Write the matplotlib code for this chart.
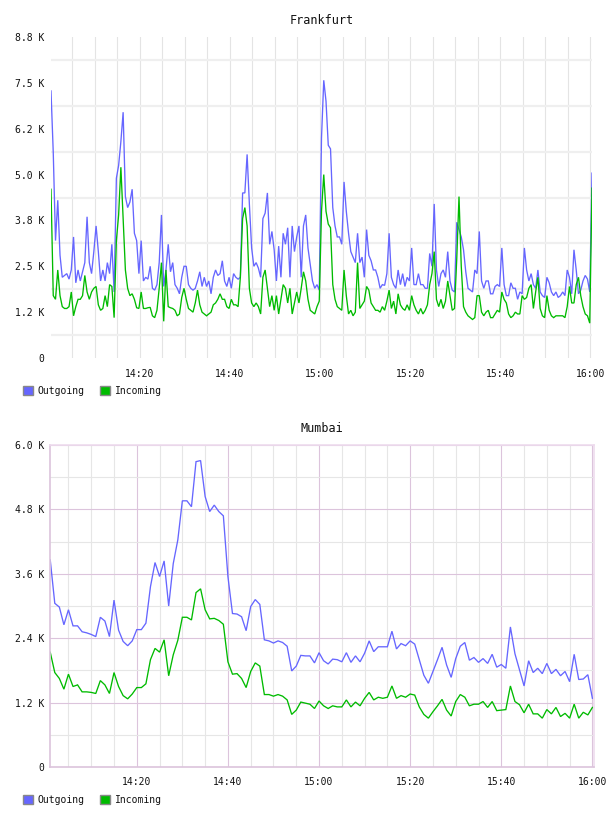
import numpy as np
import pandas as pd
import matplotlib
matplotlib.use("Agg")
from matplotlib import pyplot as plt
from matplotlib import dates as mdates
from matplotlib import ticker
from matplotlib.patches import Patch

###############################################################################
# DATA  (traffic values in K)
###############################################################################
fra_title = "Frankfurt"
fra_start = "2013-05-14 14:00:20"   # one sample every 30 s
fra_out = [
	7.28, 5.6, 3.2, 4.3, 2.8, 2.2, 2.25, 2.3, 2.15, 2.4,
	3.3, 2.05, 2.4, 2.1, 2.35, 2.6, 3.85, 2.6, 2.3, 2.9,
	3.6, 2.9, 2.1, 2.4, 2.1, 2.6, 2.3, 3.1, 1.8, 4.9,
	5.25, 5.9, 6.7, 4.4, 4.1, 4.25, 4.6, 3.4, 3.2, 2.3,
	3.2, 2.1, 2.2, 2.15, 2.5, 1.9, 1.85, 2.0, 2.6, 3.9,
	1.95, 2.4, 3.1, 2.35, 2.6, 2.0, 1.9, 1.75, 2.2, 2.5,
	2.5, 2.0, 1.9, 1.85, 1.9, 2.1, 2.35, 1.95, 2.2, 1.95,
	2.1, 1.75, 2.2, 2.4, 2.25, 2.3, 2.65, 2.1, 1.95, 2.2,
	1.9, 2.3, 2.2, 2.15, 2.2, 4.5, 4.5, 5.55, 4.2, 3.0,
	2.5, 2.6, 2.45, 2.2, 3.8, 3.95, 4.5, 3.1, 3.45, 2.95,
	2.1, 3.05, 2.2, 3.4, 3.1, 3.55, 2.2, 3.6, 2.9, 3.3,
	3.6, 2.2, 3.6, 3.9, 3.0, 2.55, 2.1, 1.9, 2.0, 1.85,
	6.0, 7.57, 7.0, 5.8, 5.7, 4.1, 3.6, 3.3, 3.3, 3.1,
	4.8, 4.0, 3.4, 2.9, 2.75, 2.6, 3.4, 2.6, 2.75, 2.2,
	3.5, 2.8, 2.65, 2.4, 2.4, 2.2, 1.9, 2.0, 1.98, 2.3,
	3.4, 2.2, 2.0, 1.9, 2.4, 2.0, 2.3, 1.95, 2.2, 2.1,
	3.0, 2.0, 2.0, 2.3, 2.0, 2.0, 1.9, 1.9, 2.85, 2.5,
	4.2, 2.4, 1.95, 2.3, 2.4, 2.2, 2.9, 2.1, 1.85, 1.8,
	3.7, 3.5, 3.3, 2.95, 2.35, 1.9, 1.85, 1.8, 2.4, 2.3,
	3.45, 2.1, 1.9, 2.1, 2.1, 1.75, 1.75, 1.95, 2.0, 1.95,
	3.0, 2.0, 1.7, 1.7, 2.05, 1.9, 1.9, 1.6, 1.8, 1.75,
	3.0, 2.4, 2.1, 2.3, 2.0, 1.9, 2.4, 1.8, 1.7, 1.65,
	2.2, 2.05, 1.8, 1.7, 1.8, 1.65, 1.7, 1.8, 1.7, 2.4,
	2.2, 1.75, 2.95, 2.4, 1.75, 1.85, 2.1, 2.25, 2.15, 1.8,
	5.04,
]
fra_in = [
	4.6, 1.7, 1.6, 2.4, 1.7, 1.4, 1.35, 1.35, 1.4, 1.8,
	1.15, 1.4, 1.6, 1.6, 1.7, 2.25, 1.8, 1.6, 1.8, 1.9,
	1.95, 1.45, 1.3, 1.35, 1.7, 1.4, 2.0, 1.95, 1.1, 3.2,
	3.9, 5.2, 3.8, 2.4, 1.9, 1.7, 1.75, 1.6, 1.37, 1.35,
	1.8, 1.35, 1.35, 1.37, 1.38, 1.15, 1.1, 1.3, 1.9, 2.6,
	1.0, 2.4, 1.4, 1.37, 1.35, 1.3, 1.15, 1.2, 1.65, 1.9,
	1.6, 1.35, 1.3, 1.25, 1.5, 1.85, 1.45, 1.25, 1.2, 1.15,
	1.2, 1.25, 1.45, 1.5, 1.6, 1.75, 1.6, 1.6, 1.4, 1.35,
	1.6, 1.45, 1.45, 1.4, 2.2, 3.8, 4.1, 3.6, 1.9, 1.5,
	1.4, 1.5, 1.4, 1.2, 2.2, 2.4, 1.9, 1.4, 1.7, 1.3,
	1.7, 1.2, 1.6, 2.0, 1.9, 1.5, 1.9, 1.2, 1.5, 1.8,
	1.5, 1.9, 2.35, 2.1, 1.6, 1.3, 1.25, 1.2, 1.4, 1.55,
	4.0, 5.0, 4.0, 3.65, 3.55, 2.0, 1.6, 1.4, 1.35, 1.3,
	2.4, 1.7, 1.2, 1.3, 1.15, 1.25, 2.6, 1.35, 1.45, 1.55,
	1.95, 1.85, 1.5, 1.4, 1.3, 1.3, 1.25, 1.4, 1.3, 1.55,
	1.85, 1.35, 1.55, 1.2, 1.75, 1.45, 1.35, 1.3, 1.45, 1.3,
	1.7, 1.45, 1.3, 1.2, 1.35, 1.2, 1.3, 1.45, 2.0, 2.3,
	2.9, 1.6, 1.4, 1.6, 1.35, 1.55, 2.1, 1.7, 1.3, 1.35,
	2.7, 4.4, 2.5, 1.4, 1.25, 1.15, 1.1, 1.05, 1.1, 1.7,
	1.7, 1.25, 1.15, 1.25, 1.3, 1.1, 1.1, 1.2, 1.3, 1.25,
	1.8, 1.6, 1.5, 1.2, 1.1, 1.15, 1.25, 1.2, 1.2, 1.7,
	1.6, 1.65, 1.9, 2.0, 1.35, 1.8, 2.2, 1.35, 1.15, 1.1,
	1.7, 1.3, 1.15, 1.1, 1.15, 1.15, 1.15, 1.15, 1.1, 1.4,
	1.95, 1.5, 1.5, 2.0, 2.2, 1.7, 1.4, 1.2, 1.15, 0.95,
	4.63,
]

mum_title = "Mumbai"
mum_start = "2013-05-14 14:01:00"   # one sample every minute
mum_out = [
	3.86, 3.05, 2.98, 2.65, 2.93, 2.63, 2.63, 2.52, 2.50, 2.47,
	2.43, 2.79, 2.72, 2.43, 3.11, 2.55, 2.34, 2.26, 2.35, 2.56,
	2.56, 2.68, 3.36, 3.81, 3.55, 3.84, 3.00, 3.79, 4.23, 4.96,
	4.96, 4.85, 5.69, 5.71, 5.04, 4.76, 4.88, 4.76, 4.68, 3.55,
	2.86, 2.85, 2.80, 2.54, 2.99, 3.12, 3.03, 2.37, 2.35, 2.31,
	2.35, 2.32, 2.25, 1.79, 1.88, 2.08, 2.07, 2.07, 1.94, 2.13,
	1.98, 1.92, 2.01, 2.00, 1.96, 2.13, 1.95, 2.07, 1.96, 2.12,
	2.35, 2.15, 2.24, 2.24, 2.24, 2.53, 2.20, 2.30, 2.26, 2.35,
	2.29, 2.00, 1.71, 1.56, 1.78, 2.00, 2.23, 1.90, 1.67, 2.02,
	2.25, 2.32, 1.99, 2.04, 1.95, 2.02, 1.93, 2.10, 1.86, 1.91,
	1.84, 2.61, 2.11, 1.81, 1.51, 1.98, 1.76, 1.84, 1.74, 1.93,
	1.74, 1.82, 1.70, 1.78, 1.59, 2.10, 1.63, 1.64, 1.72, 1.28,
]
mum_in = [
	2.14, 1.76, 1.65, 1.45, 1.73, 1.50, 1.53, 1.40, 1.40, 1.39,
	1.37, 1.61, 1.53, 1.37, 1.76, 1.50, 1.33, 1.27, 1.36, 1.48,
	1.48, 1.55, 2.00, 2.21, 2.14, 2.37, 1.70, 2.09, 2.36, 2.79,
	2.79, 2.74, 3.25, 3.32, 2.93, 2.76, 2.77, 2.73, 2.66, 1.96,
	1.73, 1.74, 1.65, 1.48, 1.78, 1.94, 1.88, 1.35, 1.35, 1.32,
	1.35, 1.32, 1.25, 0.98, 1.06, 1.21, 1.19, 1.17, 1.09, 1.23,
	1.14, 1.09, 1.14, 1.12, 1.12, 1.25, 1.12, 1.21, 1.14, 1.28,
	1.39, 1.25, 1.30, 1.28, 1.30, 1.51, 1.28, 1.33, 1.30, 1.36,
	1.34, 1.12, 0.98, 0.91, 1.03, 1.14, 1.26, 1.06, 0.95, 1.22,
	1.35, 1.30, 1.14, 1.17, 1.17, 1.22, 1.11, 1.22, 1.05, 1.06,
	1.07, 1.51, 1.22, 1.16, 1.01, 1.17, 0.99, 0.99, 0.91, 1.07,
	0.99, 1.11, 0.94, 1.00, 0.91, 1.17, 0.91, 1.02, 0.97, 1.11,
]

series_names = ["Outgoing", "Incoming"]
series_colors = ["#6666ff", "#00bb00"]

fra_yticks = [0, 1.25, 2.5, 3.75, 5.0, 6.25, 7.5, 8.75]
mum_yticks = [0, 1.2, 2.4, 3.6, 4.8, 6.0]

MONO = "DejaVu Sans Mono"
TXT = "#111111"
PINK = "#dcc4dc"
PINK_LIGHT = "#eedcee"


###############################################################################
def kfmt(v, pos):
	if abs(v) < 1e-9:
		return "0"
	return "%.1f K" % v


###############################################################################
def drawLines(ax, times, out, inc):
	ax.plot(times, out, color=series_colors[0], lw=0.95, solid_joinstyle="miter")
	ax.plot(times, inc, color=series_colors[1], lw=0.95, solid_joinstyle="miter")


###############################################################################
def styleTime(ax, x0, x1):
	ax.set_xlim(pd.Timestamp(x0), pd.Timestamp(x1))
	ax.xaxis.set_major_locator(mdates.MinuteLocator(byminute=[0, 20, 40]))
	ax.xaxis.set_minor_locator(mdates.MinuteLocator(byminute=range(0, 60, 5)))
	ax.xaxis.set_major_formatter(mdates.DateFormatter("%H:%M"))
	ax.yaxis.set_major_formatter(ticker.FuncFormatter(kfmt))
	ax.tick_params(which="both", length=0, labelsize=7, labelcolor=TXT)
	ax.tick_params(axis="x", pad=8)
	ax.tick_params(axis="y", pad=5)
	for lab in ax.get_xticklabels() + ax.get_yticklabels():
		lab.set_family(MONO)
	ax.set_axisbelow(True)


###############################################################################
fig = plt.figure(figsize=(6.08, 8.16), dpi=100)
W, H = 608.0, 816.0

# ---- Frankfurt ----
ax1 = fig.add_axes([51 / W, 1 - 358 / H, 541 / W, 321 / H])
times1 = pd.date_range(fra_start, periods=len(fra_out), freq="30s")
drawLines(ax1, times1, fra_out, fra_in)
styleTime(ax1, "2013-05-14 14:00:20", "2013-05-14 16:00:20")
ax1.set_ylim(0, 8.75)
ax1.set_yticks(fra_yticks)
ax1.set_yticks(np.array(fra_yticks[:-1]) + 0.625, minor=True)
ax1.grid(False)
ax1.grid(axis="x", which="both", color="#e4e4e4", lw=0.8)
ax1.grid(axis="y", which="minor", color="#efefef", lw=1.6)
for s in ax1.spines.values():
	s.set_visible(False)
ax1.set_title(fra_title, family=MONO, fontsize=8.5, color=TXT, pad=9)

# ---- Mumbai ----
ax2 = fig.add_axes([50 / W, 1 - 767 / H, 544 / W, 322 / H])
times2 = pd.date_range(mum_start, periods=len(mum_out), freq="1min")
drawLines(ax2, times2, mum_out, mum_in)
styleTime(ax2, "2013-05-14 14:00:57", "2013-05-14 16:00:21")
ax2.set_ylim(0, 6.0)
ax2.set_yticks(mum_yticks)
ax2.set_yticks(np.array(mum_yticks[:-1]) + 0.6, minor=True)
ax2.grid(axis="x", which="minor", color="#e6e6e6", lw=0.8)
ax2.grid(axis="y", which="minor", color="#e6e6e6", lw=0.8)
ax2.grid(axis="both", which="major", color=PINK, lw=0.8)
ax2.tick_params(axis="y", pad=4)
ax2.tick_params(axis="x", pad=7)
for side in ["left", "bottom"]:
	ax2.spines[side].set_color(PINK)
	ax2.spines[side].set_linewidth(1.2)
for side in ["top", "right"]:
	ax2.spines[side].set_color(PINK_LIGHT)
	ax2.spines[side].set_linewidth(1.2)
ax2.set_title(mum_title, family=MONO, fontsize=8.5, color=TXT, pad=9)

# ---- legends ----
handles = [Patch(facecolor=c, edgecolor="#888888", lw=1) for c in series_colors]
for ytop in [386, 795]:
	fig.legend(handles, series_names, loc="upper left",
		bbox_to_anchor=(23 / W, 1 - ytop / H), ncol=2, frameon=False,
		prop={"family": MONO, "size": 7}, labelcolor=TXT,
		handlelength=1.0, handleheight=1.0, handletextpad=0.5,
		columnspacing=1.6, borderpad=0, borderaxespad=0)

fig.savefig("out.png", dpi=100, facecolor="white")
